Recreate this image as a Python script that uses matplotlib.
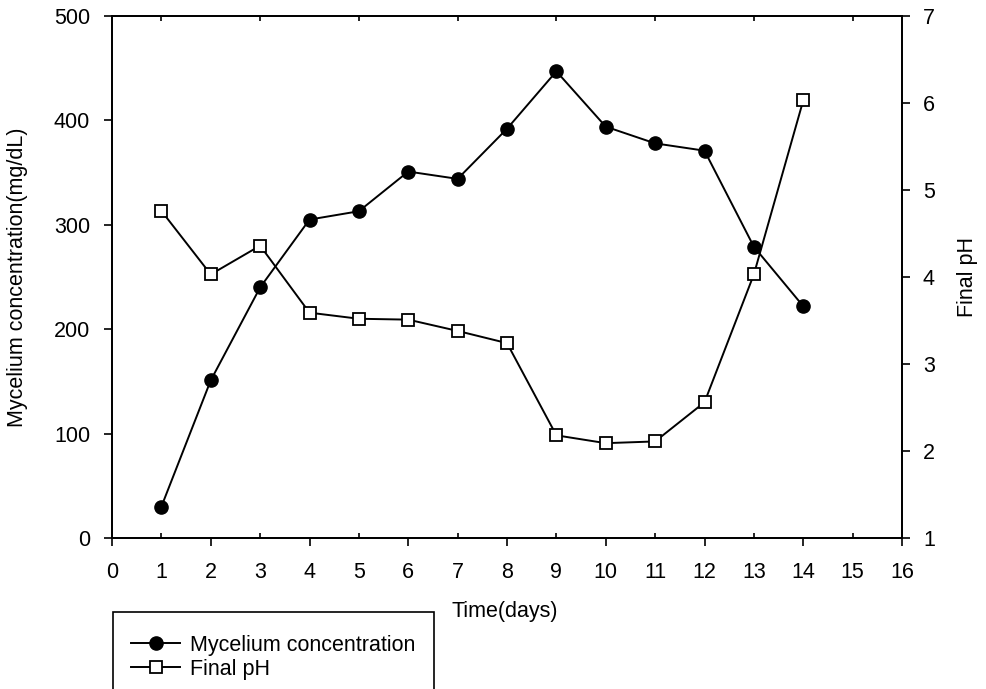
import numpy as np
import matplotlib
matplotlib.use('Agg')
import matplotlib.pyplot as plt
from matplotlib.patches import Rectangle

plt.rcParams['font.family'] = ['Liberation Sans', 'DejaVu Sans']
plt.rcParams['font.size'] = 15.5

days = [1, 2, 3, 4, 5, 6, 7, 8, 9, 10, 11, 12, 13, 14]
mycelium = [30, 151, 240, 305, 313, 351, 344, 392, 447, 394, 378, 371, 279, 222]
final_ph = [4.76, 4.03, 4.36, 3.59, 3.52, 3.51, 3.38, 3.24, 2.18, 2.09, 2.11, 2.56, 4.03, 6.03]

fig = plt.figure(figsize=(9.86, 6.89), dpi=100)
ax = fig.add_axes([112/986, 1 - 538/689, 790/986, 522/689])
ax2 = ax.twinx()

l1, = ax.plot(days, mycelium, color='black', lw=1.4, marker='o', ms=9.5,
              mfc='black', mec='black', label='Mycelium concentration', clip_on=False)
l2, = ax2.plot(days, final_ph, color='black', lw=1.4, marker='s', ms=8.5,
               mfc='white', mec='black', mew=1.3, label='Final pH', clip_on=False)

ax.set_xlim(0, 16)
ax.set_ylim(0, 500)
ax2.set_ylim(1, 7)

# even days get outward major ticks, odd days small inward minor ticks
ax.set_xticks(range(0, 17, 2))
ax.set_xticks(range(1, 17, 2), minor=True)
ax.set_xticklabels([str(d) for d in range(0, 17, 2)])
ax.set_xticklabels([str(d) for d in range(1, 17, 2)], minor=True)
ax.tick_params(axis='x', which='major', direction='out', length=5.8, width=1.2, pad=11.3)
ax.tick_params(axis='x', which='minor', direction='in', length=3.6, width=1.2, pad=17.1,
               top=True, labeltop=False)
ax.set_yticks(range(0, 501, 100))
ax.tick_params(axis='y', which='major', direction='out', length=5.8, width=1.2, pad=10)
ax2.set_yticks(range(1, 8))
ax2.tick_params(axis='y', direction='out', length=5.8, width=1.2, pad=9.3)

for a in (ax, ax2):
    for s in a.spines.values():
        s.set_linewidth(1.3)

fig.text(18/986, 1 - 277/689, 'Mycelium concentration(mg/dL)',
         rotation=90, ha='center', va='center')
fig.text(968/986, 1 - 277/689, 'Final pH', rotation=90, ha='center', va='center')
fig.text(505/986, 1 - 612/689, 'Time(days)', ha='center', va='center')

# legend box runs off the bottom edge of the figure
fig.patches.append(Rectangle((113/986, -0.1), (434 - 113)/986, 0.1 + 1 - 612/689,
                             transform=fig.transFigure, fill=False, ec='black', lw=1.2))
leg = fig.legend(handles=[l1, l2], loc='upper left',
                 bbox_to_anchor=(120/986, 1 - 624/689), frameon=False,
                 borderpad=0, handlelength=2.3, handletextpad=0.45, labelspacing=0.15)

fig.savefig('out.png', dpi=100)
